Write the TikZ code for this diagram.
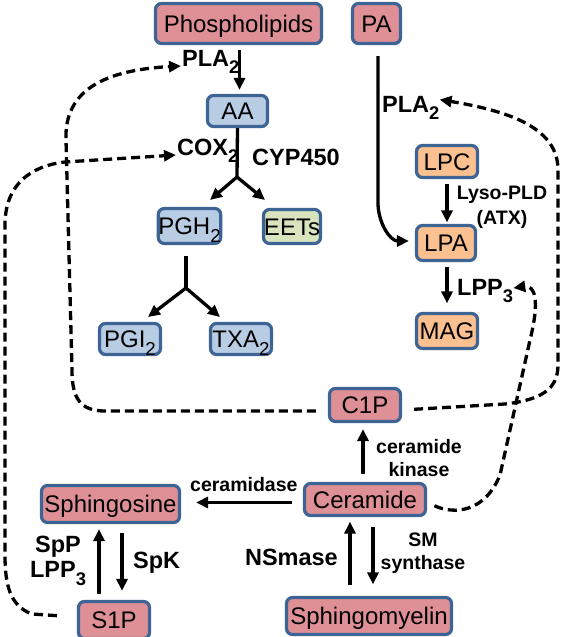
\documentclass[tikz,border=0pt]{standalone}
\usepackage{fontspec}
\setmainfont{Liberation Sans}
\usetikzlibrary{arrows.meta, positioning}
\definecolor{cellline}{RGB}{62,100,150}
\definecolor{lipidred}{RGB}{222,144,150}
\definecolor{eicoblue}{RGB}{184,204,228}
\definecolor{eetgreen}{RGB}{215,228,189}
\definecolor{lysoorange}{RGB}{250,192,143}
\newcommand{\lo}[1]{\raisebox{-0.34em}{\scalebox{0.78}{#1}}}
\tikzset{
  box/.style={draw=cellline, line width=3.2pt, rounded corners=6pt, inner sep=0pt,
    text height=17pt, text depth=0pt, font=\fontsize{24}{26}\selectfont},
  enz/.style={font=\fontsize{23.5}{25}\selectfont\bfseries, inner sep=0pt, align=center},
  enzsmall/.style={font=\fontsize{19.5}{23}\selectfont\bfseries, inner sep=0pt, align=center},
  stem/.style={line width=3.3pt},
  rxn/.style={line width=3.3pt, -{Triangle[length=12pt,width=11pt]}},
  feedback/.style={line width=3.3pt, dash pattern=on 9pt off 5pt, -{Triangle[length=12pt,width=11pt]}}
}

\begin{document}
\begin{tikzpicture}[x=1pt,y=-1pt]
    \useasboundingbox (0,0) rectangle (572,637);

    % Lipid boxes
    \node[box, fill=lipidred, minimum width=166pt, minimum height=40pt] (phospho) at (238.5,23.5) {Phospholipids};
    \node[box, fill=lipidred, minimum width=48pt, minimum height=40pt] (pa) at (376.5,23.5) {PA};
    \node[box, fill=eicoblue, minimum width=60pt, minimum height=31pt] (aa) at (237.5,111) {AA};
    \node[box, fill=eicoblue, minimum width=62pt, minimum height=35pt] (pgh) at (189.5,226) {PGH\lo{2}};
    \node[box, fill=eetgreen, minimum width=57pt, minimum height=34pt] (eets) at (292,226.5) {EETs};
    \node[box, fill=eicoblue, minimum width=61pt, minimum height=31pt] (pgi) at (130,339) {PGI\lo{2}};
    \node[box, fill=eicoblue, minimum width=61pt, minimum height=31pt] (txa) at (241,339) {TXA\lo{2}};
    \node[box, fill=lysoorange, minimum width=61pt, minimum height=32pt] (lpc) at (447,161.5) {LPC};
    \node[box, fill=lysoorange, minimum width=59pt, minimum height=35pt] (lpa) at (446,243) {LPA};
    \node[box, fill=lysoorange, minimum width=61pt, minimum height=35pt] (mag) at (447,331) {MAG};
    \node[box, fill=lipidred, minimum width=71pt, minimum height=33pt] (c1p) at (365,405) {C1P};
    \node[box, fill=lipidred, minimum width=121pt, minimum height=32pt] (ceramide) at (365,499.5) {Ceramide};
    \node[box, fill=lipidred, minimum width=138pt, minimum height=37pt] (sphingosine) at (110.5,504) {Sphingosine};
    \node[box, fill=lipidred, minimum width=71pt, minimum height=37pt] (s1p) at (114,620) {S1P};
    \node[box, fill=lipidred, minimum width=165pt, minimum height=37pt] (sm) at (369,616) {Sphingomyelin};

    % Enzymes
    \node[enz, anchor=base west] (plaup) at (182,66) {PLA\lo{2}};
    \node[enz, anchor=base west] (cox) at (177,155) {COX\lo{2}};
    \node[enz, anchor=base west] (cyp) at (252,165) {CYP450};
    \node[enz, anchor=base west] (plaright) at (382,112) {PLA\lo{2}};
    \node[enzsmall, anchor=north, font=\fontsize{19.5}{25}\selectfont\bfseries] (lyso) at (502,186) {Lyso-PLD\\(ATX)};
    \node[enz, anchor=base west] (lppright) at (457,295) {LPP\lo{3}};
    \node[enzsmall, anchor=north] (cerkin) at (419,439) {ceramide\\kinase};
    \node[enzsmall, anchor=base west] (cdase) at (190,491) {ceramidase};
    \node[enz, anchor=north] (spp) at (58,536) {SpP\\LPP\lo{3}};
    \node[enz, anchor=base west] (spk) at (133,568) {SpK};
    \node[enz, anchor=base east] (nsm) at (338,565) {NSmase};
    \node[enzsmall, anchor=north] (smsyn) at (423,533) {SM\\synthase};

    % Fork points and free ends
    \coordinate (aafork) at (237,177);
    \coordinate (pghtip) at (210,200);
    \coordinate (eettip) at (265,200);
    \coordinate (pghfork) at (186,288);
    \coordinate (pgitip) at (148,317);
    \coordinate (txatip) at (220,317);

    % Reactions
    \draw[rxn, shorten <=5pt, shorten >=4pt] ([xshift=2pt]aa.north |- phospho.south) -- ([xshift=2pt]aa.north);
    \draw[stem] (aa.south) -- (aafork);
    \draw[rxn] (aafork) -- (pghtip);
    \draw[rxn] (aafork) -- (eettip);
    \draw[stem, shorten <=11pt] (pgh.south -| pghfork) -- (pghfork);
    \draw[rxn] (pghfork) -- (pgitip);
    \draw[rxn] (pghfork) -- (txatip);
    \draw[rxn, shorten <=11pt] ([xshift=1.5pt]pa.south) -- ++(0,158) to[out=-90,in=180] ([xshift=-6pt,yshift=2pt]lpa.west);
    \draw[rxn, shorten <=5pt, shorten >=1.5pt] (lpc.south) -- (lpc.south |- lpa.north);
    \draw[rxn, shorten <=4.5pt, shorten >=8.5pt] (lpa.south -| lpc.south) -- (lpc.south |- mag.north);
    \draw[rxn, shorten <=8pt, shorten >=6pt] ([xshift=-2pt]ceramide.north) -- ([xshift=-2pt]c1p.south);
    \draw[rxn, shorten <=11pt, shorten >=15pt] ([yshift=-3pt]ceramide.west) -- ([yshift=-3pt]ceramide.west -| sphingosine.east);
    \draw[rxn, shorten <=6pt, shorten >=5pt] ([xshift=-15pt]s1p.north) -- ([xshift=-15pt]s1p.north |- sphingosine.south);
    \draw[rxn, shorten <=9pt, shorten >=9pt] ([xshift=8pt]s1p.north |- sphingosine.south) -- ([xshift=8pt]s1p.north);
    \draw[rxn, shorten <=11pt, shorten >=4.5pt] ([xshift=-19pt]sm.north) -- ([xshift=-19pt]sm.north |- ceramide.south);
    \draw[rxn, shorten <=9.5pt, shorten >=11.5pt] ([xshift=4pt]sm.north |- ceramide.south) -- ([xshift=4pt]sm.north);

    % Feedback loops
    \draw[feedback, shorten <=12pt] ([yshift=-6pt]c1p.west) -- (105,411)
        .. controls (80,411) and (72,398) .. (72,370) -- (66,140)
        .. controls (64,90) and (105,70) .. ([xshift=-1pt]plaup.base west);
    \draw[feedback, shorten <=20pt] ([yshift=3pt]s1p.west) -- (32,614)
        .. controls (10,606) and (5,585) .. (5,555) -- (5,225)
        .. controls (5,185) and (30,166) .. (65,162) -- ([xshift=-1pt]cox.base west);
    \draw[feedback, shorten <=12pt] ([yshift=-5pt]c1p.east) -- (505,404)
        .. controls (540,400) and (558,390) .. (558,365) -- (558,170)
        .. controls (558,130) and (515,112) .. ([yshift=-4pt]plaright.north east);
    \draw[feedback, shorten <=8pt] ([yshift=-3pt]ceramide.east)
        .. controls (455,515) and (485,512) .. (500,475) -- (530,340)
        .. controls (540,300) and (535,285) .. ([yshift=3pt]lppright.east);
\end{tikzpicture}
\end{document}
